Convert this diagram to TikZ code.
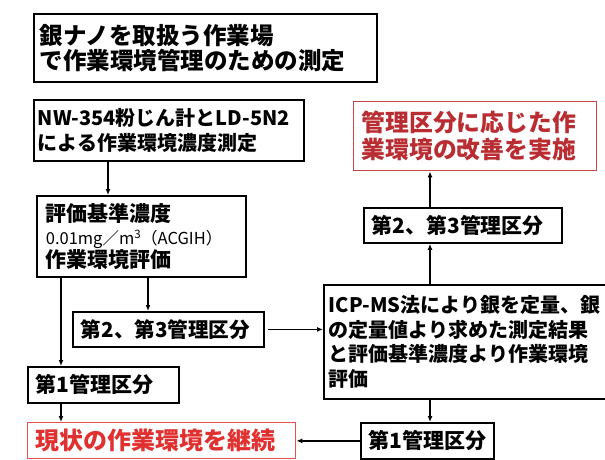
\documentclass[tikz,border=0pt]{standalone}
\usepackage{fontspec}
\setmainfont{Noto Sans CJK JP}
\usetikzlibrary{arrows.meta, positioning, calc}

\begin{document}
\begin{tikzpicture}[
    x=1pt, y=-1pt,
    every node/.style={font=\bfseries},
    box/.style={
        draw=black, line width=1.8pt, anchor=north west,
        align=left, inner xsep=6pt, inner ysep=0pt
    },
    redbox/.style={box, draw=cRedLine, text=cRedText, line width=1.4pt},
    flow/.style={draw=black, line width=1.5pt, -{Latex[length=6pt,width=5pt]}}
]
\definecolor{cRedLine}{RGB}{196,70,72}
\definecolor{cRedText}{RGB}{185,45,50}
\definecolor{cKeepLine}{RGB}{232,80,80}
\definecolor{cKeepText}{RGB}{225,48,48}

\useasboundingbox (0,0) rectangle (605,459);

% Left column
\node[box, text width=331pt, minimum height=68pt,
      font=\bfseries\fontsize{23.5}{25}\selectfont] (title) at (33,13)
    {銀ナノを取扱う作業場\\で作業環境管理のための測定};
\node[box, text width=262pt, minimum height=61pt, inner xsep=4pt,
      font=\bfseries\fontsize{20}{25}\selectfont] (meas) at (33,99)
    {\mbox{NW-354粉じん計とLD-5N2}\\による作業環境濃度測定};
\node[box, text width=191pt, minimum height=81pt, inner xsep=9pt,
      font=\bfseries\fontsize{21}{23}\selectfont] (eval) at (36,195)
    {評価基準濃度\\
     {\mdseries\fontsize{16.5}{23}\selectfont 0.01mg／m\textsuperscript{3}（ACGIH）}\\
     作業環境評価};
\node[box, text width=175pt, minimum height=35pt, inner xsep=8pt,
      font=\bfseries\fontsize{20.6}{24}\selectfont] (cls23l) at (72,311)
    {第2、第3管理区分};
\node[box, text width=135pt, minimum height=36pt, inner xsep=8pt,
      font=\bfseries\fontsize{21}{24}\selectfont] (cls1l) at (27,366)
    {第1管理区分};
\node[redbox, draw=cKeepLine, text=cKeepText, text width=252pt,
      minimum height=36pt, inner xsep=8pt,
      font=\bfseries\fontsize{24}{26}\selectfont] (keep) at (27,422)
    {現状の作業環境を継続};

% Right column
\node[redbox, text width=227pt, minimum height=69pt, inner xsep=8pt,
      font=\bfseries\fontsize{23.8}{27}\selectfont] (improve) at (353,101)
    {管理区分に応じた作\\業環境の改善を実施};
\node[box, text width=182pt, minimum height=35pt, inner xsep=8pt,
      font=\bfseries\fontsize{20.9}{24}\selectfont] (cls23r) at (363,207)
    {第2、第3管理区分};
\node[box, text width=272pt, minimum height=114pt, inner xsep=5pt,
      font=\bfseries\fontsize{20}{24.7}\selectfont] (icp) at (323,284)
    {ICP-MS法により銀を定量、銀\\の定量値より求めた測定結果\\
     と評価基準濃度より作業環境\\評価};
\node[box, text width=117pt, minimum height=36pt, inner xsep=8pt,
      font=\bfseries\fontsize{21}{24}\selectfont] (cls1r) at (360,422)
    {第1管理区分};

% Arrow columns
\coordinate (colA) at (108,0);
\coordinate (colB) at (61,0);
\coordinate (colC) at (148,0);
\coordinate (colD) at (430,0);

% Edges
\draw[flow] (meas.south -| colA) -- (eval.north -| colA);
\draw[flow] (eval.south -| colB) -- (cls1l.north -| colB);
\draw[flow] (eval.south -| colC) -- (cls23l.north -| colC);
\draw[flow] (cls1l.south -| colB) -- (keep.north -| colB);
\draw[flow, shorten <=3pt] (cls23l.east) -- (cls23l.east -| icp.west);
\draw[flow] (icp.north -| colD) -- (cls23r.south -| colD);
\draw[flow] (cls23r.north -| colD) -- (improve.south -| colD);
\draw[flow] (icp.south -| colD) -- (cls1r.north -| colD);
\draw[flow] (cls1r.west) -- (cls1r.west -| keep.east);

\end{tikzpicture}
\end{document}
